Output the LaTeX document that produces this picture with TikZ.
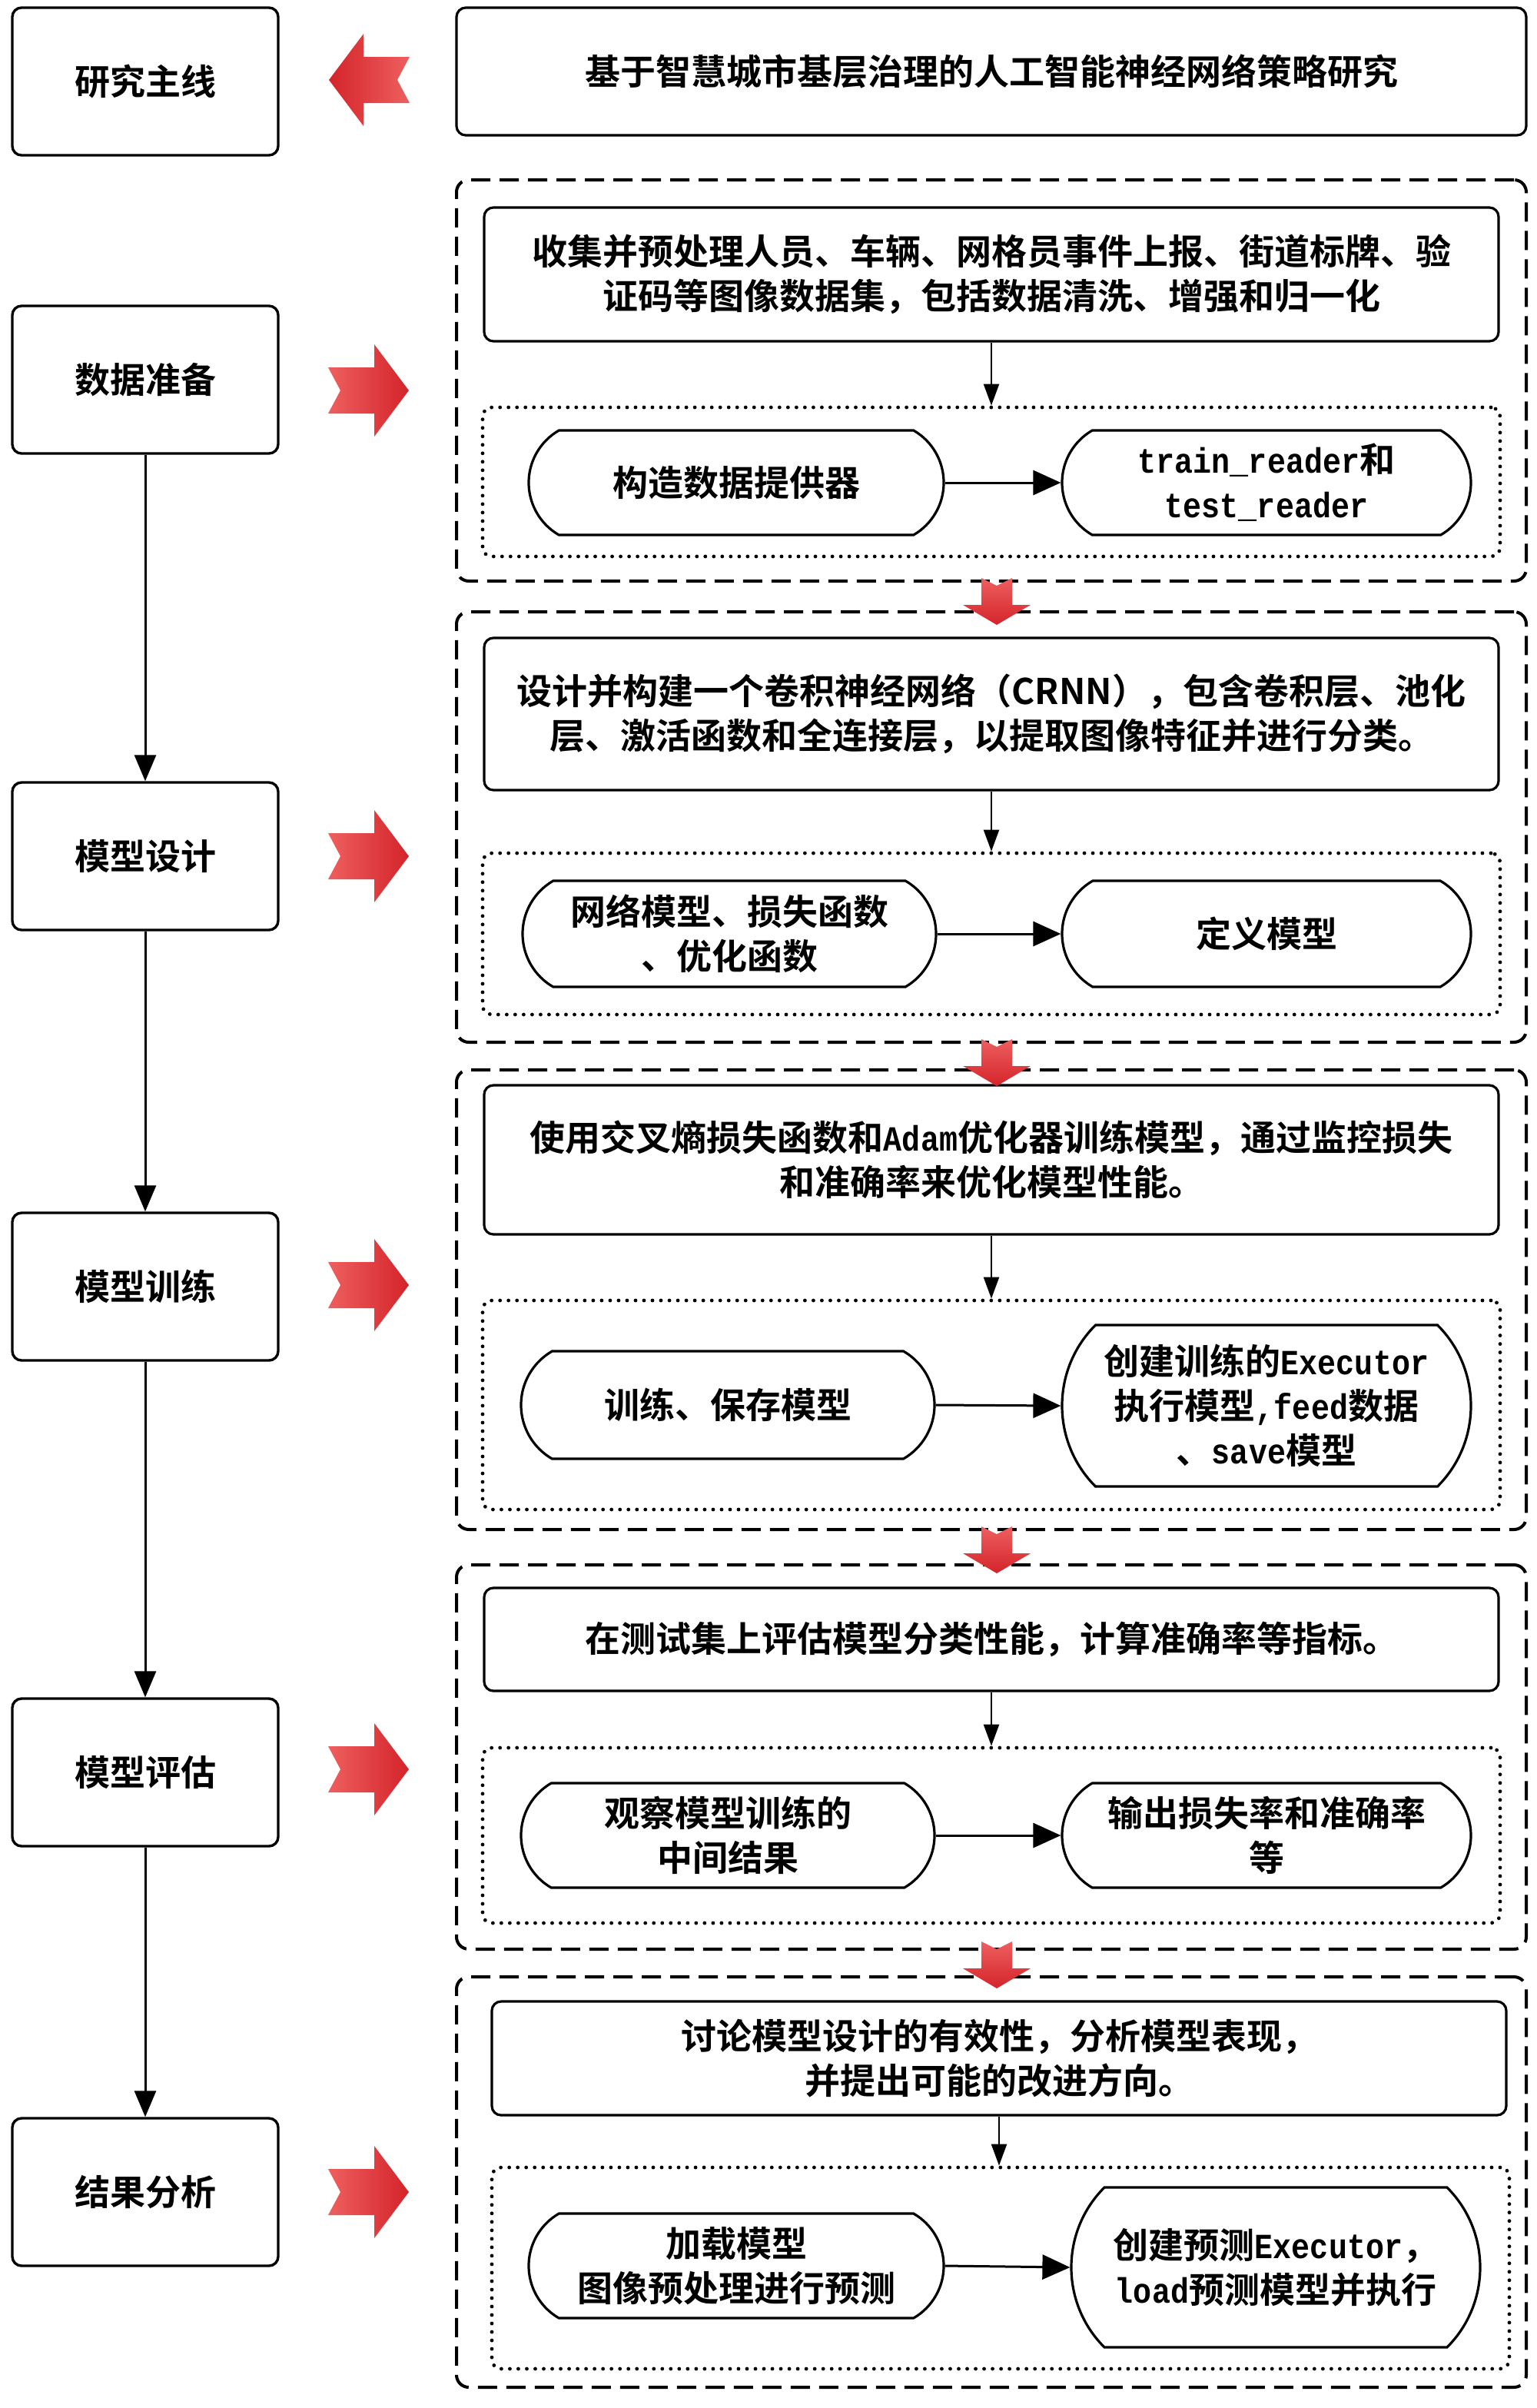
\documentclass[tikz,border=0pt]{standalone}
\usepackage{fontspec}
\setmainfont{Noto Sans CJK SC}[BoldFont=* Bold]
\newfontfamily\lat{Liberation Mono}[FakeStretch=0.87]
\usetikzlibrary{arrows.meta,shapes.misc}
\definecolor{rA}{RGB}{238,95,95}
\definecolor{rB}{RGB}{212,36,42}
\newcommand\fs{\fontsize{23}{29}\selectfont\bfseries}
% \boxat{style}{name}{x1}{y1}{x2}{y2}{text}
\newcommand\boxat[7]{\node[#1, minimum width={(#5-#3)*1pt}, minimum height={(#6-#4)*1pt}] (#2) at ({(#3+#5)/2},{(#4+#6)/2}) {#7};}
\newcommand\redright[2]{\shade[shift={(#1,#2)}, left color=rA, right color=rB] (-26.5,-15) -- (3.5,-15) -- (3.5,-30) -- (26,0) -- (3.5,30) -- (3.5,15) -- (-26.5,15) -- (-18.5,0) -- cycle;}
\newcommand\redleft[2]{\shade[shift={(#1,#2)}, left color=rB, right color=rA] (26.5,-15) -- (-3.5,-15) -- (-3.5,-30) -- (-26,0) -- (-3.5,30) -- (-3.5,15) -- (26.5,15) -- (18.5,0) -- cycle;}
\newcommand\reddown[2]{\shade[shift={(#1,#2)}, top color=rA, bottom color=rB] (-10,0) -- (0,5) -- (10,0) -- (10,17.5) -- (22,17.5) -- (0,30.5) -- (-22,17.5) -- (-10,17.5) -- cycle;}
\begin{document}
\begin{tikzpicture}[x=1pt,y=-1pt,
  lbox/.style={draw, line width=1.7pt, rounded corners=6pt, inner sep=0pt, font=\fs, align=center},
  tbox/.style={draw, line width=1.6pt, rounded corners=6pt, inner sep=0pt, font=\fs, align=center},
  outerbox/.style={draw, line width=2pt, dash pattern=on 12.5pt off 6pt, rounded corners=8pt, inner sep=0pt},
  innerbox/.style={draw, line width=2.4pt, dash pattern=on 0.01pt off 5.5pt, line cap=round, rounded corners=6pt, inner sep=0pt},
  pill/.style={draw, line width=1.6pt, rounded rectangle, rounded rectangle arc length=120, inner sep=0pt, font=\fs, align=center},
  tallpill/.style={pill, rounded rectangle arc length=90},
  larrow/.style={line width=1.5pt, -{Triangle[length=17pt,width=14pt]}},
  carrow/.style={line width=1.2pt, -{Triangle[length=14pt,width=10pt]}},
  harrow/.style={line width=1.5pt, -{Triangle[length=18pt,width=16pt]}}
]
\useasboundingbox (0,0) rectangle (1000,1566.5);

% left column
\boxat{lbox}{L0}{8}{5}{181}{101}{研究主线}
\boxat{lbox}{L1}{8}{199}{181}{295}{数据准备}
\boxat{lbox}{L2}{8}{509}{181}{605}{模型设计}
\boxat{lbox}{L3}{8}{789}{181}{885}{模型训练}
\boxat{lbox}{L4}{8}{1105}{181}{1201}{模型评估}
\boxat{lbox}{L5}{8}{1378}{181}{1474}{结果分析}
\draw[larrow] (L1.south) -- (L2.north);
\draw[larrow] (L2.south) -- (L3.north);
\draw[larrow] (L3.south) -- (L4.north);
\draw[larrow] (L4.south) -- (L5.north);

% title
\boxat{tbox}{T}{297}{5}{993}{88}{基于智慧城市基层治理的人工智能神经网络策略研究}

% section outer boxes
\boxat{outerbox}{S1}{297}{117}{993}{378}{}
\boxat{outerbox}{S2}{297}{398}{993}{678}{}
\boxat{outerbox}{S3}{297}{696}{993}{995}{}
\boxat{outerbox}{S4}{297}{1018}{993}{1268}{}
\boxat{outerbox}{S5}{297}{1286}{993}{1553}{}

% section 1
\boxat{tbox}{B1}{315}{135}{975}{222}{收集并预处理人员、车辆、网格员事件上报、街道标牌、验\\证码等图像数据集，包括数据清洗、增强和归一化}
\boxat{innerbox}{D1}{314}{265}{976}{362}{}
\boxat{pill}{P1a}{344}{280}{614}{348}{构造数据提供器}
\boxat{pill}{P1b}{691}{280}{957}{348}{{\lat train\_reader}和\\{\lat test\_reader}}
\draw[carrow] (B1.south) -- (D1.north);
\draw[harrow] (P1a.east) -- (P1b.west);

% section 2
\boxat{tbox}{B2}{315}{415}{975}{514}{设计并构建一个卷积神经网络（CRNN），包含卷积层、池化\\层、激活函数和全连接层，以提取图像特征并进行分类。}
\boxat{innerbox}{D2}{314}{555}{976}{660}{}
\boxat{pill}{P2a}{340}{573}{609}{642}{网络模型、损失函数\\、优化函数}
\boxat{pill}{P2b}{691}{573}{957}{642}{定义模型}
\draw[carrow] (B2.south) -- (D2.north);
\draw[harrow] (P2a.east) -- (P2b.west);

% section 3
\boxat{tbox}{B3}{315}{706}{975}{803}{使用交叉熵损失函数和{\lat Adam}优化器训练模型，通过监控损失\\和准确率来优化模型性能。}
\boxat{innerbox}{D3}{314}{846}{976}{982}{}
\boxat{pill}{P3a}{339}{879}{608}{949}{训练、保存模型}
\boxat{tallpill}{P3b}{691}{862}{957}{967}{创建训练的{\lat Executor}\\执行模型{\lat ,feed}数据\\、{\lat save}模型}
\draw[carrow] (B3.south) -- (D3.north);
\draw[harrow] (P3a.east) -- (P3b.west);

% section 4
\boxat{tbox}{B4}{315}{1033}{975}{1100}{在测试集上评估模型分类性能，计算准确率等指标。}
\boxat{innerbox}{D4}{314}{1137}{976}{1251}{}
\boxat{pill}{P4a}{339}{1160}{608}{1228}{观察模型训练的\\中间结果}
\boxat{pill}{P4b}{691}{1160}{957}{1228}{输出损失率和准确率\\等}
\draw[carrow] (B4.south) -- (D4.north);
\draw[harrow] (P4a.east) -- (P4b.west);

% section 5
\boxat{tbox}{B5}{320}{1302}{980}{1376}{讨论模型设计的有效性，分析模型表现，\\并提出可能的改进方向。}
\boxat{innerbox}{D5}{320}{1410}{982}{1541}{}
\boxat{pill}{P5a}{344}{1440}{614}{1508}{加载模型\\图像预处理进行预测}
\boxat{tallpill}{P5b}{697}{1423}{963}{1527}{创建预测{\lat Executor}，\\{\lat load}预测模型并执行}
\draw[carrow] (B5.south) -- (B5.south |- D5.north);
\draw[harrow] (P5a.east) -- (P5b.west);

% red arrows
\redleft{240}{52}
\redright{240}{254}
\redright{240}{557}
\redright{240}{836}
\redright{240}{1151}
\redright{240}{1426}
\reddown{648.5}{376}
\reddown{648.5}{676}
\reddown{648.5}{993}
\reddown{648.5}{1263}
\end{tikzpicture}
\end{document}
